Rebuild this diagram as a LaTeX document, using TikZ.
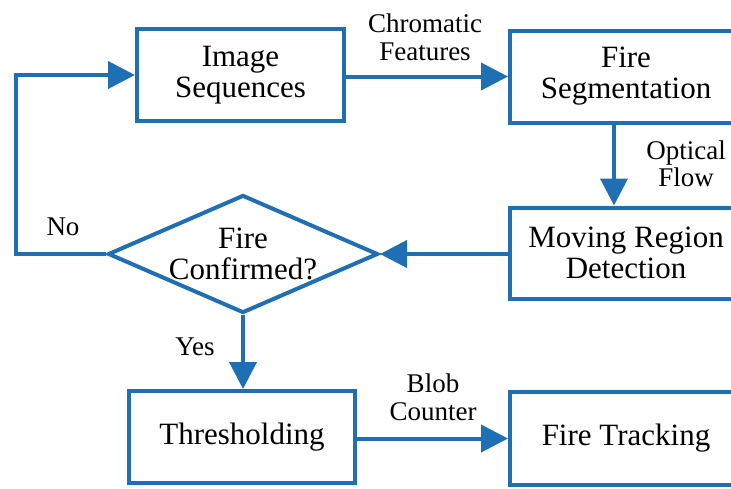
\documentclass[tikz,border=0pt]{standalone}
\usepackage{fontspec}
\setmainfont{Liberation Serif}
\usetikzlibrary{shapes.geometric,arrows.meta}
\definecolor{flowblue}{RGB}{31,111,180}
\begin{document}
\begin{tikzpicture}[x=1pt,y=-1pt,
  procbox/.style={draw=flowblue, line width=4pt, minimum height=92pt, inner sep=0pt,
    align=center, font=\fontsize{31}{31}\selectfont},
  decision/.style={draw=flowblue, line width=4pt, diamond, minimum width=270pt,
    minimum height=118pt, inner sep=0pt},
  dtext/.style={align=center, inner sep=0pt, font=\fontsize{31}{31}\selectfont},
  lbl/.style={align=center, inner sep=0pt, font=\fontsize{27}{27.5}\selectfont},
  flow/.style={draw=flowblue, line width=4pt, -{Triangle[length=27pt,width=27pt]}}]
\useasboundingbox (0,0) rectangle (731,488);
\clip (0,0) rectangle (731,488);

\node[procbox, minimum width=207pt] (img) at (240.5,75) {Image\\Sequences};
\node[procbox, minimum width=232pt] (seg) at (626,76.5) {Fire\\Segmentation};
\node[procbox, minimum width=232pt, minimum height=91pt] (mov) at (626,253) {Moving Region\\Detection};
\node[decision] (dia) at (243,254) {};
\node[dtext] (diatext) at (dia.center) {Fire\\Confirmed?};
\node[procbox, minimum width=226pt] (thr) at (242,437) {Thresholding};
\node[procbox, minimum width=232pt, minimum height=93pt] (trk) at (626,438.5) {Fire Tracking};

\node[lbl] (chrom) at (425,37.5) {Chromatic\\Features};
\node[lbl] (optic) at (686,164) {Optical\\Flow};
\node[lbl] (blob) at (433,397.5) {Blob\\Counter};
\node[lbl] (no) at (63,227) {No};
\node[lbl] (yes) at (195,347) {Yes};

\draw[flow] (img.east |- seg.west) -- (seg.west);
\draw[flow] ([xshift=-12pt]seg.south) -- ([xshift=-12pt]mov.north);
\draw[flow] (mov.west |- dia.east) -- (dia.east);
\draw[flow] (dia.west) -- ++(-90,0) |- (img.west);
\draw[flow] (dia.south) -- (dia.south |- thr.north);
\draw[flow] (thr.east |- trk.west) -- (trk.west);
\end{tikzpicture}
\end{document}
